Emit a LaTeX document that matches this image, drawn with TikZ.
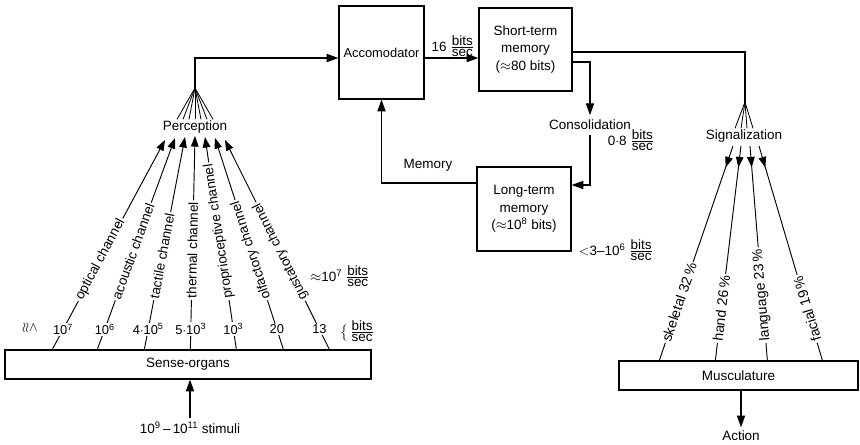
\documentclass[tikz,border=0pt]{standalone}
\usepackage{fontspec}
\setmainfont{Liberation Sans}
\usepackage{amsmath}
\usepackage{amssymb}
\usetikzlibrary{
  arrows.meta,
  positioning,
  calc,
  decorations.markings
}
\newcommand{\bitsps}{$\genfrac{}{}{}{1}{\mbox{bits}}{\mbox{sec}}$}
\tikzset{
  organ/.style={draw, line width=1.1pt, minimum height=0.87cm, inner sep=2pt},
  memblk/.style={draw, line width=1.1pt, align=center, inner sep=2pt, font=\fontsize{11.5}{15}\selectfont},
  flow/.style={-{Triangle[length=10pt, width=7pt]}, line width=0.9pt},
  plain/.style={line width=0.9pt},
  channel/.style={-{Triangle[length=9pt, width=6.5pt]}, line width=0.8pt},
  fanline/.style={line width=0.7pt},
  effector/.style={line width=0.8pt, postaction={decorate},
    decoration={markings, mark=at position 0.1 with {\arrow{Triangle[length=9pt, width=6.5pt]}}}},
  rate/.style={fill=white, inner sep=1pt, font=\fontsize{11}{13}\selectfont},
  chtag/.style={fill=white, inner sep=1.5pt, anchor=west, font=\fontsize{11.5}{13}\selectfont},
  mtag/.style={fill=white, inner sep=1.5pt, anchor=west, font=\fontsize{12}{14}\selectfont},
  lbl/.style={inner sep=1pt}
}

\begin{document}
\begin{tikzpicture}[x=0.03cm, y=-0.03cm, font=\fontsize{11.5}{14}\selectfont]
  \useasboundingbox (0,0) rectangle (860,445);

  % blocks
  \node[memblk, minimum width=2.55cm, minimum height=2.79cm, font=\fontsize{11}{13}\selectfont] (acc) at (381.5,52.5) {Accomodator};
  \node[memblk, minimum width=2.79cm, minimum height=2.49cm] (stm) at (525.5,49.5) {Short-term\\memory\\($\approx$80 bits)};
  \node[memblk, minimum width=2.82cm, minimum height=2.52cm] (ltm) at (524,209) {Long-term\\memory\\($\approx$10\textsuperscript{8} bits)};
  \node[organ, minimum width=10.98cm] (sense) at (188,364.5) {Sense-organs};
  \node[organ, minimum width=7.17cm] (mus) at (738.5,375.5) {Musculature};

  % labels
  \node[lbl] (perc) at (195,127) {Perception};
  \node[lbl] (sig) at (744,136) {Signalization};
  \node[lbl, inner sep=4pt] (cons) at (590,125) {Consolidation};
  \node[lbl] (mem) at (428,165) {Memory};
  \node[lbl, inner sep=3pt] (act) at (741,436) {Action};
  \node[lbl, inner sep=3pt] (stim) at (190,428) {10\textsuperscript{9}\,--\,10\textsuperscript{11} stimuli};
  \node[lbl] (rate16) at (453,46) {16 \bitsps};
  \node[lbl] (rate08) at (631,140) {0$\cdot$8 \bitsps};
  \node[lbl] (ratelt) at (616,250) {$<$3--10\textsuperscript{6} \bitsps};
  \node[lbl] (total) at (340,276) {$\approx$10\textsuperscript{7} \bitsps};
  \node[lbl] (unit) at (357,331) {$\big\{$\,\bitsps};
  \node[lbl, rotate=-90] (bound) at (30,328) {$\lessapprox$};

  % central path
  \coordinate (apexP) at (195,88);
  \coordinate (apexS) at (745,102);
  \coordinate (accin) at ([yshift=-0.165cm]acc.west);
  \coordinate (accout) at ([yshift=-0.165cm]acc.east);
  \coordinate (stmout) at ([yshift=-0.075cm]stm.east);
  \coordinate (stmcons) at ([yshift=-0.375cm]stm.east);
  \coordinate (ltmin) at ([yshift=0.72cm]ltm.east);
  \coordinate (ltmout) at ([yshift=0.78cm]ltm.west);
  \draw[flow] (apexP) |- (accin);
  \draw[flow] (accout) -- (accout -| stm.west);
  \draw[plain] (stmout) -| (apexS);
  \draw[flow] (stmcons) -| (cons.north);
  \draw[flow] (cons.south) |- (ltmin);
  \draw[flow] (ltmout) -| (acc.south);
  \draw[flow] (stim.north) -- (stim.north |- sense.south);
  \draw[flow] (act.north |- mus.south) -- (act.north);

  % fans
  \foreach \dx in {-18,-12,-6,0,6,12,18}
    \draw[fanline] ([xshift=\dx*0.03cm]perc.north) -- (apexP);
  \foreach \dx in {-9,-3,3,9}
    \draw[fanline] ([xshift=\dx*0.03cm]sig.north) -- (apexS);

  % sensory channels
  \coordinate (t1) at (165,140);
  \coordinate (t2) at (175,138);
  \coordinate (t3) at (185,137);
  \coordinate (t4) at (195,136);
  \coordinate (t5) at (205,137);
  \coordinate (t6) at (215,138);
  \coordinate (t7) at (225,140);
  \draw[channel] ([xshift=1.44cm]sense.north west) -- node[rate, pos=0.095] {10\textsuperscript{7}} node[chtag, pos=0.23, rotate=61.9] {optical channel} (t1);
  \draw[channel] ([xshift=2.79cm]sense.north west) -- node[rate, pos=0.095] {10\textsuperscript{6}} node[chtag, pos=0.23, rotate=70.0] {acoustic channel} (t2);
  \draw[channel] ([xshift=4.20cm]sense.north west) -- node[rate, pos=0.095] {4$\cdot$10\textsuperscript{5}} node[chtag, pos=0.23, rotate=79.4] {tactile channel} (t3);
  \draw[channel] ([xshift=5.58cm]sense.north west) -- node[rate, pos=0.095] {5$\cdot$10\textsuperscript{3}} node[chtag, pos=0.23, rotate=88.9] {thermal channel} (t4);
  \draw[channel] ([xshift=6.96cm]sense.north west) -- node[rate, pos=0.095] {10\textsuperscript{3}} node[chtag, pos=0.23, rotate=98.5] {proprioceptive channel} (t5);
  \draw[channel] ([xshift=8.37cm]sense.north west) -- node[rate, pos=0.095] {20} node[chtag, pos=0.23, rotate=108.0] {olfactory channel} (t6);
  \draw[channel] ([xshift=9.75cm]sense.north west) -- node[rate, pos=0.095] {13} node[chtag, pos=0.23, rotate=116.6] {gustatory channel} (t7);

  % motor channels
  \coordinate (s1) at (733,146);
  \coordinate (s2) at (741,146);
  \coordinate (s3) at (750,146);
  \coordinate (s4) at (759,146);
  \draw[effector] (s1) -- node[mtag, pos=0.92, rotate=71.3] {skeletal 32\,\%} ([xshift=1.23cm]mus.north west);
  \draw[effector] (s2) -- node[mtag, pos=0.92, rotate=83.4] {hand 26\,\%} ([xshift=2.91cm]mus.north west);
  \draw[effector] (s3) -- node[mtag, pos=0.92, rotate=94.8] {language 23\,\%} ([xshift=4.47cm]mus.north west);
  \draw[effector] (s4) -- node[mtag, pos=0.92, rotate=106.6] {facial 19\,\%} ([xshift=6.12cm]mus.north west);
\end{tikzpicture}
\end{document}
